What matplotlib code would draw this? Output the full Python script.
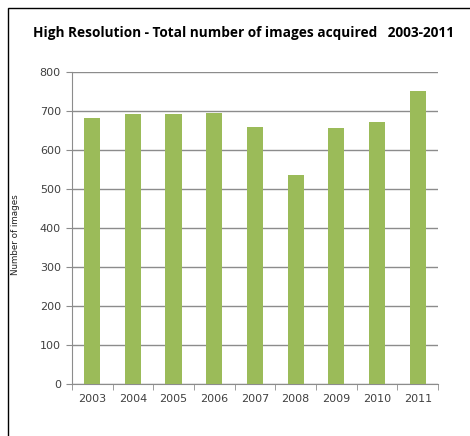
import matplotlib.pyplot as plt
from matplotlib.patches import Rectangle

years = ['2003', '2004', '2005', '2006', '2007', '2008', '2009', '2010', '2011']
images = [681, 691, 691, 694, 658, 537, 656, 671, 750]
yticks = [0, 100, 200, 300, 400, 500, 600, 700, 800]

fig = plt.figure(figsize=(4.70, 4.36), dpi=100)
ax = fig.add_axes([0.153, 0.1193, 0.779, 0.7157])

# outer chart frame
fig.patches.append(Rectangle((8 / 470, -0.1), 1.1, 1 - 8 / 436 + 0.1,
                             transform=fig.transFigure, fill=False,
                             edgecolor='black', linewidth=1.0))

x = range(len(years))
ax.bar(x, images, width=0.4, color='#9BBB59', zorder=3)

ax.set_xlim(-0.5, len(years) - 0.5)
ax.set_ylim(0, 800)
ax.set_yticks(yticks)
ax.grid(axis='y', color='#8c8c8c', linewidth=1.0, zorder=0)

ax.set_xticks(list(x))
ax.set_xticklabels(years)
ax.set_xticks([i - 0.5 for i in range(len(years) + 1)], minor=True)
ax.tick_params(axis='x', which='major', length=0, pad=7, labelsize=8, labelcolor='#404040')
ax.tick_params(axis='x', which='minor', length=4, color='#8c8c8c', direction='out')
ax.tick_params(axis='y', length=4, color='#8c8c8c', labelsize=8, labelcolor='#404040', pad=4)

for s in ['top', 'right']:
    ax.spines[s].set_visible(False)
for s in ['left', 'bottom']:
    ax.spines[s].set_color('#8c8c8c')

ax.set_ylabel('Number of images', fontsize=6.3, color='#202020')
ax.yaxis.set_label_coords(-0.142, 0.478)

fig.text(0.0702, 0.924, 'High Resolution - Total number of images acquired   2003-2011',
         fontsize=9.8, fontweight='bold', family='Open Sans', ha='left', va='center')

plt.savefig('out.png', dpi=100)
